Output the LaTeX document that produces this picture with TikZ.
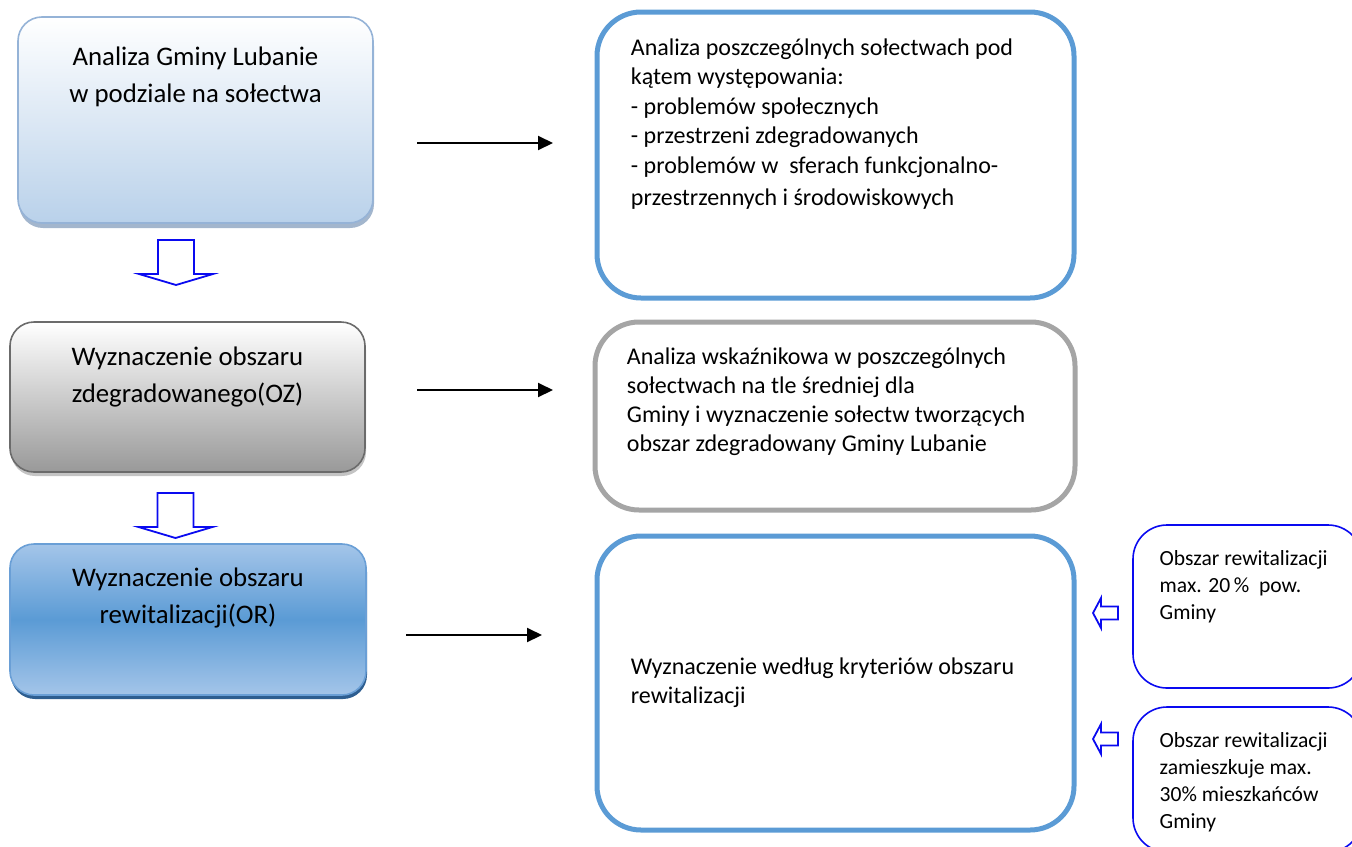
\documentclass[tikz,border=0pt]{standalone}
\usepackage{fontspec}
\setmainfont{Carlito}
\usetikzlibrary{arrows.meta, positioning, shadows}

\definecolor{lbBorder}{HTML}{95B3D7}
\definecolor{lbBottom}{HTML}{B9D1EA}
\definecolor{lbShadow}{HTML}{A3B6CD}
\definecolor{grBorder}{HTML}{6B6B6B}
\definecolor{grBottom}{HTML}{999999}
\definecolor{grShadow}{HTML}{C4C4C4}
\definecolor{dbBorder}{HTML}{6A9FD6}
\definecolor{dbTop}{HTML}{A4C5E9}
\definecolor{dbMiddle}{HTML}{5B9BD5}
\definecolor{dbShadow}{HTML}{2E5E90}
\definecolor{frameBlue}{HTML}{5B9BD5}
\definecolor{frameGray}{HTML}{A5A5A5}
\definecolor{noteBlue}{HTML}{0A0AF0}

\begin{document}
\begin{tikzpicture}[
    x=0.5pt, y=-0.5pt,
    stepbox/.style={
        draw,
        rounded corners=12pt,
        line width=0.8pt,
        minimum width=177.5pt,
        minimum height=75pt
    },
    frame/.style={
        draw=frameBlue,
        rounded corners=22pt,
        line width=2.5pt,
        minimum width=238.5pt
    },
    note/.style={
        draw=noteBlue,
        rounded corners=17pt,
        line width=0.8pt,
        minimum width=114.5pt
    },
    steptext/.style={
        align=center,
        inner sep=0pt,
        anchor=base,
        font=\fontsize{13.4}{18.5}\selectfont
    },
    frametext/.style={
        align=left,
        inner sep=0pt,
        anchor=base west,
        font=\fontsize{12}{14.75}\selectfont
    },
    notetext/.style={
        align=left,
        inner sep=0pt,
        anchor=base west,
        font=\fontsize{10.8}{13.5}\selectfont
    },
    arrow/.style={-{Triangle[length=7.5pt, width=7pt]}, line width=1pt},
    hollow/.style={draw=noteBlue, fill=white, line width=0.9pt, line join=miter},
    downarr/.pic={
        \draw[hollow] (-18,0) -- (18,0) -- (18,34) -- (37,34) -- (0,45)
            -- (-37,34) -- (-18,34) -- cycle;
    },
    leftarr/.pic={
        \draw[hollow] (0,0) -- (8,-15) -- (8,-6.5) -- (25,-6.5) -- (25,6.5)
            -- (8,6.5) -- (8,15) -- cycle;
    }
]
\useasboundingbox (0,0) rectangle (1352,846);

% left column
\node[stepbox, draw=lbBorder, top color=white, bottom color=lbBottom,
      minimum height=103pt,
      drop shadow={shadow xshift=0.5pt, shadow yshift=-2.5pt, fill=lbShadow, opacity=1}]
      (analiza) at (195.5,120) {};
\node[steptext] (analizaText) at ([yshift=-43pt]analiza.north)
      {Analiza Gminy Lubanie\\w podziale na sołectwa};

\node[stepbox, draw=grBorder, top color=white, bottom color=grBottom,
      drop shadow={shadow xshift=0.5pt, shadow yshift=-2pt, fill=grShadow, opacity=1}]
      (oz) at (187.5,397) {};
\node[steptext] (ozText) at ([yshift=-40.5pt]oz.north)
      {Wyznaczenie obszaru\\zdegradowanego(OZ)};

\node[stepbox, draw=dbBorder, top color=dbTop, bottom color=dbTop, middle color=dbMiddle,
      minimum width=178pt, minimum height=75.5pt,
      drop shadow={shadow xshift=0.5pt, shadow yshift=-2pt, fill=dbShadow, opacity=1}]
      (or) at (188,619.5) {};
\node[steptext] (orText) at ([yshift=-40pt]or.north)
      {Wyznaczenie obszaru\\rewitalizacji(OR)};

\pic at (176,240) {downarr};
\pic at (175.5,493) {downarr};

% right column
\node[frame, minimum height=143pt] (solectwa) at (835.5,155) {};
\node[frametext] (solectwaText) at ([xshift=18pt, yshift=-98pt]solectwa.north west)
      {Analiza poszczególnych sołectwach pod\\
       kątem występowania:\\
       - problemów społecznych\\
       - przestrzeni zdegradowanych\\
       - problemów w\ \ sferach funkcjonalno-\\[1.5pt]
       przestrzennych i środowiskowych};

\node[frame, draw=frameGray, minimum width=240pt, minimum height=94pt] (wskazniki) at (835,416) {};
\node[frametext, font=\fontsize{12}{14.5}\selectfont] (wskaznikiText)
      at ([xshift=17pt, yshift=-66pt]wskazniki.north west)
      {Analiza wskaźnikowa w poszczególnych\\
       sołectwach na tle średniej dla\\
       Gminy i wyznaczenie sołectw tworzących\\
       obszar zdegradowany Gminy Lubanie};

\node[frame, minimum height=147pt] (kryteria) at (835.5,683) {};
\node[frametext] (kryteriaText) at ([xshift=18pt, yshift=-85pt]kryteria.north west)
      {Wyznaczenie według kryteriów obszaru\\rewitalizacji};

\node[note, minimum height=81.5pt] (powierzchnia) at (1247.5,606.5) {};
\node[notetext] (powierzchniaText) at ([xshift=13.5pt, yshift=-47.5pt]powierzchnia.north west)
      {Obszar rewitalizacji\\max. 20\,\%\ \ pow.\\Gminy};

\node[note, minimum height=72.5pt] (mieszkancy) at (1247.5,779.5) {};
\node[notetext] (mieszkancyText) at ([xshift=13.5pt, yshift=-61pt]mieszkancy.north west)
      {Obszar rewitalizacji\\zamieszkuje max.\\30\% mieszkańców\\Gminy};

\pic at (1093,613) {leftarr};
\pic at (1093,739) {leftarr};

% horizontal connectors
\coordinate (a1s) at (417,143);
\coordinate (a1e) at (553,143);
\coordinate (a2s) at (417,390);
\coordinate (a2e) at (553,390);
\coordinate (a3s) at (406,635);
\coordinate (a3e) at (542,635);
\draw[arrow] (a1s) -- (a1e);
\draw[arrow] (a2s) -- (a2e);
\draw[arrow] (a3s) -- (a3e);
\end{tikzpicture}
\end{document}
